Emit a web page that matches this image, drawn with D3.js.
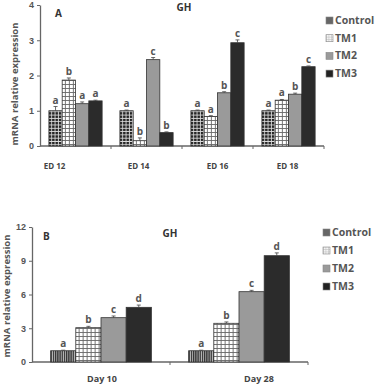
<!DOCTYPE html>
<html>
<head>
<meta charset="utf-8">
<script src="https://cdn.jsdelivr.net/npm/d3@7"></script>
<style>
  body { margin: 0; background: #fff; }
  svg { font-family: "Open Sans", "Liberation Sans", sans-serif; font-weight: bold; }
</style>
</head>
<body>
<svg id="chart" width="381" height="385"></svg>
<script>
// series names shared by both panels
var series = ["Control", "TM1", "TM2", "TM3"];

// panel A - embryonic days
var catsA = ["ED 12", "ED 14", "ED 16", "ED 18"];
var valsA = [
  [1.0, 1.87, 1.2, 1.28],
  [1.0, 0.15, 2.45, 0.38],
  [1.0, 0.84, 1.51, 2.93],
  [1.0, 1.30, 1.47, 2.25]
];
var errA = [
  [0.12, 0.06, 0.05, 0.02],
  [0.02, 0.08, 0.06, 0.02],
  [0.02, 0.02, 0.03, 0.08],
  [0.02, 0.02, 0.03, 0.02]
];
var letA = [
  ["a", "b", "a", "a"],
  ["a", "b", "c", "b"],
  ["a", "a", "b", "c"],
  ["a", "a", "b", "c"]
];
var ticksA = [0, 1, 2, 3, 4];

// panel B - post hatch days
var catsB = ["Day 10", "Day 28"];
var valsB = [
  [1.0, 3.05, 3.94, 4.86],
  [1.0, 3.44, 6.25, 9.45]
];
var errB = [
  [0.05, 0.12, 0.15, 0.2],
  [0.05, 0.12, 0.12, 0.25]
];
var letB = [
  ["a", "b", "c", "d"],
  ["a", "b", "c", "d"]
];
var ticksB = [0, 3, 6, 9, 12];

var svg = d3.select("#chart");
var defs = svg.append("defs");

// dark checker for control (panel A)
var p1 = defs.append("pattern").attr("id", "checkDark")
  .attr("width", 3.3).attr("height", 3.3).attr("patternUnits", "userSpaceOnUse");
p1.append("rect").attr("width", 3.3).attr("height", 3.3).attr("fill", "#ddd");
p1.append("rect").attr("width", 2.4).attr("height", 2.4).attr("fill", "#222");

// light grid for TM1
var p2 = defs.append("pattern").attr("id", "gridLight")
  .attr("width", 4).attr("height", 4).attr("patternUnits", "userSpaceOnUse");
p2.append("rect").attr("width", 4).attr("height", 4).attr("fill", "#fff");
p2.append("path").attr("d", "M0,0.5H4M0.5,0V4").attr("stroke", "#666").attr("stroke-width", 0.9);

// finer grid for the small legend swatch
var p4 = defs.append("pattern").attr("id", "gridLeg")
  .attr("width", 2.5).attr("height", 2.5).attr("patternUnits", "userSpaceOnUse");
p4.append("rect").attr("width", 2.5).attr("height", 2.5).attr("fill", "#f4f4f4");
p4.append("path").attr("d", "M0,0.3H2.5M0.3,0V2.5").attr("stroke", "#bbb").attr("stroke-width", 0.6);

// vertical stripes for control (panel B)
var p3 = defs.append("pattern").attr("id", "stripes")
  .attr("width", 2.2).attr("height", 4).attr("patternUnits", "userSpaceOnUse");
p3.append("rect").attr("width", 2.2).attr("height", 4).attr("fill", "#bbb");
p3.append("rect").attr("width", 1.3).attr("height", 4).attr("fill", "#333");

var grey = "#555";

function panel(o) {
  var g = svg.append("g");
  var x = d3.scaleBand().domain(o.cats).range([o.x0, o.x1]).paddingInner(o.pad).paddingOuter(o.pad / 2);
  var xs = d3.scaleBand().domain(series).range([0, x.bandwidth()]);
  var y = d3.scaleLinear().domain([0, o.ticks[o.ticks.length - 1]]).range([o.y0, o.y1]);

  // y axis
  var ay = g.append("g").attr("transform", "translate(" + o.x0 + ",0)")
    .call(d3.axisLeft(y).tickValues(o.ticks).tickFormat(d3.format("d")).tickSize(3).tickSizeOuter(0));
  ay.select(".domain").attr("stroke", "#666").attr("stroke-width", 1.3);
  ay.selectAll(".tick line").attr("stroke", "#666");
  ay.selectAll("text").attr("fill", grey).style("font-size", "9px").style("font-weight", "bold");

  // x axis line with group separators
  var full = d3.scaleLinear().domain([0, o.cats.length]).range([o.x0, o.x1]);
  g.append("line").attr("x1", o.x0).attr("x2", o.x1).attr("y1", o.y0).attr("y2", o.y0)
    .attr("stroke", "#666").attr("stroke-width", 1.3);
  g.selectAll(".sep").data(d3.range(1, o.cats.length + 1)).enter().append("line")
    .attr("x1", function(d) { return full(d); }).attr("x2", function(d) { return full(d); })
    .attr("y1", o.y0).attr("y2", o.y0 + 3).attr("stroke", "#666");

  var groups = g.selectAll(".grp").data(o.cats).enter().append("g")
    .attr("transform", function(d) { return "translate(" + x(d) + ",0)"; });

  groups.each(function(c, i) {
    var gg = d3.select(this);
    series.forEach(function(s, j) {
      var v = o.vals[i][j], e = o.err[i][j];
      var bx = xs(s), bw = xs.bandwidth();
      gg.append("rect")
        .attr("x", bx).attr("y", y(v)).attr("width", bw).attr("height", o.y0 - y(v))
        .attr("fill", o.fills[j]).attr("stroke", "#333").attr("stroke-width", 0.8);
      var cx = bx + bw / 2;
      gg.append("line").attr("x1", cx).attr("x2", cx).attr("y1", y(v)).attr("y2", y(v + e))
        .attr("stroke", "#444").attr("stroke-width", 0.8);
      gg.append("line").attr("x1", cx - 2).attr("x2", cx + 2).attr("y1", y(v + e)).attr("y2", y(v + e))
        .attr("stroke", "#444").attr("stroke-width", 0.8);
      gg.append("text").attr("x", cx).attr("y", y(v + e) - 3)
        .attr("text-anchor", "middle").attr("fill", grey).style("font-size", "10px")
        .text(o.lets[i][j]);
    });
  });

  // category labels
  g.selectAll(".cat").data(o.cats).enter().append("text")
    .attr("x", function(d, i) { return x(d) + x.bandwidth() / 2 + o.labDx[i]; })
    .attr("y", o.labY).attr("text-anchor", "middle").attr("fill", "#444")
    .style("font-size", o.labSize).text(function(d) { return d; });

  // y title
  g.append("text").attr("transform", "translate(" + o.titleX + "," + o.titleY + ") rotate(-90)")
    .attr("text-anchor", "middle").attr("fill", grey).style("font-size", "9.5px")
    .text("mRNA relative expression");

  g.append("text").attr("x", o.letterX).attr("y", o.letterY).attr("fill", "#333")
    .style("font-size", "10px").text(o.letter);
  g.append("text").attr("x", o.ghX).attr("y", o.ghY).attr("text-anchor", "middle").attr("fill", "#333")
    .style("font-size", "10px").text("GH");

  // legend
  var lg = g.selectAll(".leg").data(series).enter().append("g")
    .attr("transform", function(d, i) { return "translate(" + o.legX + "," + (o.legY + i * o.legStep) + ")"; });
  lg.append("rect").attr("x", 0).attr("y", -7).attr("width", 7).attr("height", 7)
    .attr("fill", function(d, i) { return o.legFills[i]; }).attr("stroke", "#888").attr("stroke-width", 0.6);
  lg.append("text").attr("x", 9).attr("y", 0).attr("fill", grey).style("font-size", "10.5px")
    .text(function(d) { return d; });
}

panel({
  cats: catsA, vals: valsA, err: errA, lets: letA, ticks: ticksA,
  x0: 40, x1: 324, y0: 146, y1: 5, pad: 0.25,
  fills: ["url(#checkDark)", "url(#gridLight)", "#9a9a9a", "#2b2b2b"],
  legFills: ["#666", "url(#gridLeg)", "#9a9a9a", "#222"],
  labY: 169, labSize: "8px", labDx: [-21, -8, 0, -1],
  titleX: 18, titleY: 84, letter: "A", letterX: 55, letterY: 17, ghX: 184, ghY: 11,
  legX: 326, legY: 24, legStep: 17.7
});

panel({
  cats: catsB, vals: valsB, err: errB, lets: letB, ticks: ticksB,
  x0: 32, x1: 308, y0: 362, y1: 227, pad: 0.27,
  fills: ["url(#stripes)", "url(#gridLight)", "#9a9a9a", "#2b2b2b"],
  legFills: ["#666", "url(#gridLeg)", "#9a9a9a", "#222"],
  labY: 382, labSize: "9px", labDx: [1, 20],
  titleX: 10, titleY: 296, letter: "B", letterX: 43, letterY: 240, ghX: 170, ghY: 237,
  legX: 323, legY: 236, legStep: 18
});
</script>
</body>
</html>
